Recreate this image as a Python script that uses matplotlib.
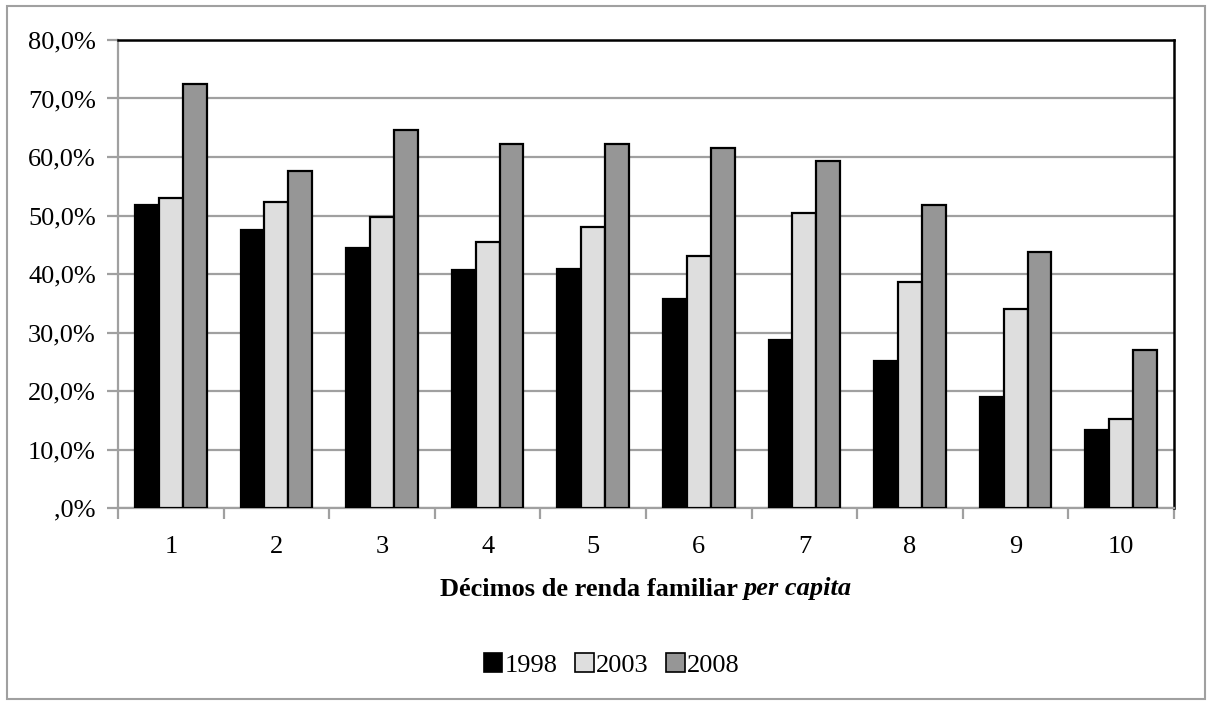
import matplotlib
matplotlib.use("Agg")
import matplotlib.pyplot as plt
from matplotlib.patches import Patch, Rectangle
from matplotlib.ticker import FuncFormatter, FixedLocator

categories = ["1", "2", "3", "4", "5", "6", "7", "8", "9", "10"]
years = ["1998", "2003", "2008"]
v1998 = [51.8, 47.5, 44.4, 40.7, 40.8, 35.8, 28.8, 25.2, 18.9, 13.3]
v2003 = [53.0, 52.3, 49.8, 45.5, 48.0, 43.1, 50.4, 38.6, 34.0, 15.2]
v2008 = [72.4, 57.6, 64.6, 62.2, 62.2, 61.6, 59.4, 51.8, 43.7, 27.0]
yticks = [0, 10, 20, 30, 40, 50, 60, 70, 80]

colors = ["#000000", "#dedede", "#969696"]
series = [v1998, v2003, v2008]

FS = 19
plt.rcParams['font.family'] = ['Liberation Serif', 'DejaVu Serif']
W, H = 1208, 704
fig = plt.figure(figsize=(W / 100, H / 100), dpi=100)
ax = fig.add_axes([118 / W, (H - 508) / H, (1174 - 118) / W, (508 - 40) / H])

x = list(range(len(categories)))
bw = 0.226
for i, (vals, c) in enumerate(zip(series, colors)):
    ax.bar([xi + (i - 1) * bw for xi in x], vals, width=bw, color=c,
           edgecolor="black", linewidth=1.6, zorder=3)

ax.set_xlim(-0.5, len(categories) - 0.5)
ax.set_ylim(0, 80)
ax.set_yticks(yticks)
ax.yaxis.set_major_formatter(FuncFormatter(lambda v, p: (",0%" if v == 0 else f"{int(v)},0%")))
ax.grid(axis="y", color="#a0a0a0", linewidth=1.6, zorder=0)
ax.set_axisbelow(True)

ax.set_xticks(x)
ax.set_xticklabels(categories)
ax.xaxis.set_minor_locator(FixedLocator([k - 0.5 for k in range(len(categories) + 1)]))
ax.tick_params(axis="x", which="major", length=0, pad=20, labelsize=FS)
ax.tick_params(axis="x", which="minor", length=8, width=1.6, color="#a0a0a0", direction="out")
ax.tick_params(axis="y", length=8, width=1.6, color="#a0a0a0", direction="out", pad=8, labelsize=FS)

for s in ["left", "bottom"]:
    ax.spines[s].set_color("#a0a0a0")
    ax.spines[s].set_linewidth(1.6)
for s in ["top", "right"]:
    ax.spines[s].set_color("black")
    ax.spines[s].set_linewidth(1.8)

# x label: bold + bold italic part
fig.canvas.draw()
r = fig.canvas.get_renderer()
t1 = fig.text(0, 0, "Décimos de renda familiar ", fontsize=FS, fontweight="bold")
t2 = fig.text(0, 0, "per capita", fontsize=FS, fontweight="bold", fontstyle="italic")
w1 = t1.get_window_extent(r).width
w2 = t2.get_window_extent(r).width
cx = (118 + 1174) / 2
start = cx - (w1 + w2) / 2
ylab = (H - 589) / H
t1.set_position((start / W, ylab)); t1.set_va("center")
t2.set_position(((start + w1) / W, ylab)); t2.set_va("center")

handles = [Patch(facecolor=c, edgecolor="black", linewidth=1.2) for c in colors]
fig.legend(handles, years, loc="center", bbox_to_anchor=(612 / W, (H - 665) / H),
           ncol=3, frameon=False, fontsize=FS, handlelength=0.7, handleheight=0.7,
           handletextpad=0.1, columnspacing=0.65)

fig.patches.append(Rectangle((7 / W, 5 / H), (1205 - 7) / W, (699 - 6) / H,
                             transform=fig.transFigure, fill=False,
                             edgecolor="#a0a0a0", linewidth=1.5))

fig.savefig("out.png", dpi=100)
